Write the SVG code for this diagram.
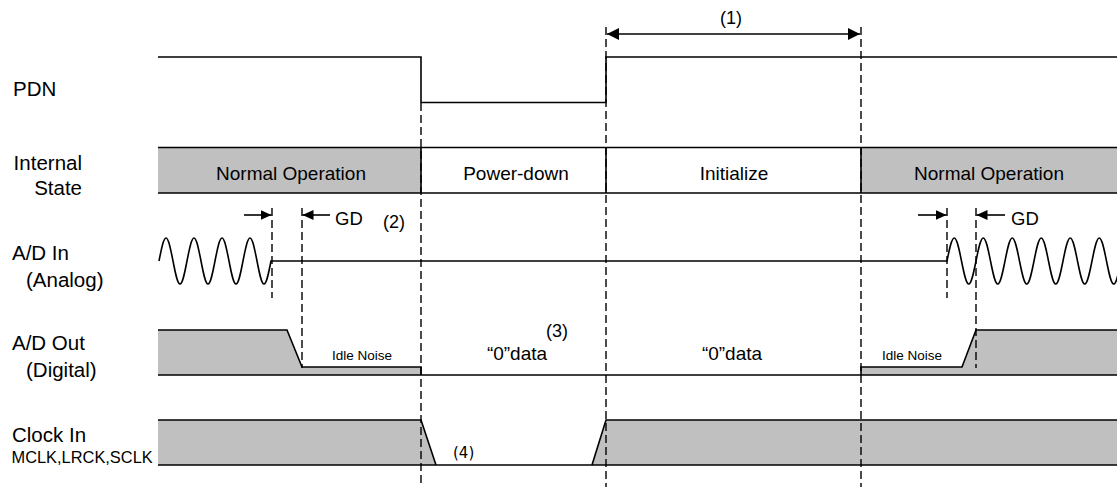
<svg xmlns="http://www.w3.org/2000/svg" width="1117" height="487" viewBox="0 0 1117 487">
<defs>
<style>
.t{font-family:"Liberation Sans",Arial,sans-serif;fill:#000}
.lbl{font-size:20.5px}
.st{font-size:19px;text-anchor:middle}
.sm{font-size:13.5px;text-anchor:middle}
.ln{fill:none;stroke:#000;stroke-width:1.6}
.gray{fill:#c0c0c0}
.dash{fill:none;stroke:#000;stroke-width:1.4;stroke-dasharray:8,4}
</style>
<marker id="ah" viewBox="0 0 12 12" refX="12" refY="6" markerWidth="12" markerHeight="12" markerUnits="userSpaceOnUse" orient="auto">
<path d="M0,0 L12,6 L0,12 Z" fill="#000"/>
</marker>
<marker id="ahs" viewBox="0 0 11 10" refX="11" refY="5" markerWidth="11" markerHeight="10" markerUnits="userSpaceOnUse" orient="auto">
<path d="M0,0 L11,5 L0,10 Z" fill="#000"/>
</marker>
</defs>
<rect width="1117" height="487" fill="#fff"/>

<g id="pdn">
<text class="t lbl" x="13" y="96">PDN</text>
<path class="ln" d="M158,57 H421 V102.5 H606 V57 H1117"/>
</g>

<g id="internal-state">
<text class="t lbl" x="82" y="170" text-anchor="end">Internal</text>
<text class="t lbl" x="82" y="195" text-anchor="end">State</text>
<rect class="gray" x="158" y="147.5" width="263" height="45.5"/>
<rect class="gray" x="861" y="147.5" width="256" height="45.5"/>
<path class="ln" d="M158,147.5 H1117 M158,193 H1117 M421,147.5 V193 M606,147.5 V193 M861,147.5 V193"/>
<text class="t st" x="291" y="179.5">Normal Operation</text>
<text class="t st" x="516" y="179.5">Power-down</text>
<text class="t st" x="734" y="179.5">Initialize</text>
<text class="t st" x="989" y="179.5">Normal Operation</text>
</g>

<g id="ad-in">
<text class="t lbl" x="12" y="260">A/D In</text>
<text class="t lbl" x="26" y="287">(Analog)</text>
<path class="ln" d="M159,261 c2.28,-11.78 4.47,-23 7,-23 c2.53,0 4.72,11.22 7,23 c2.28,11.78 4.47,23 7,23 c2.53,0 4.72,-11.22 7,-23 c2.28,-11.78 4.47,-23 7,-23 c2.53,0 4.72,11.22 7,23 c2.28,11.78 4.47,23 7,23 c2.53,0 4.72,-11.22 7,-23 c2.28,-11.78 4.47,-23 7,-23 c2.53,0 4.72,11.22 7,23 c2.28,11.78 4.47,23 7,23 c2.53,0 4.72,-11.22 7,-23 c2.28,-11.78 4.47,-23 7,-23 c2.53,0 4.72,11.22 7,23 c2.28,11.78 4.47,23 7,23 c2.53,0 4.72,-11.22 7,-23 L947,261 c2.36,-11.78 4.63,-23 7.25,-23 c2.62,0 4.89,11.22 7.25,23 c2.36,11.78 4.63,23 7.25,23 c2.62,0 4.89,-11.22 7.25,-23 c2.36,-11.78 4.63,-23 7.25,-23 c2.62,0 4.89,11.22 7.25,23 c2.36,11.78 4.63,23 7.25,23 c2.62,0 4.89,-11.22 7.25,-23 c2.36,-11.78 4.63,-23 7.25,-23 c2.62,0 4.89,11.22 7.25,23 c2.36,11.78 4.63,23 7.25,23 c2.62,0 4.89,-11.22 7.25,-23 c2.36,-11.78 4.63,-23 7.25,-23 c2.62,0 4.89,11.22 7.25,23 c2.36,11.78 4.63,23 7.25,23 c2.62,0 4.89,-11.22 7.25,-23 c2.36,-11.78 4.63,-23 7.25,-23 c2.62,0 4.89,11.22 7.25,23 c2.36,11.78 4.63,23 7.25,23 c2.62,0 4.89,-11.22 7.25,-23 c2.36,-11.78 4.63,-23 7.25,-23 c2.62,0 4.89,11.22 7.25,23 c2.36,11.78 4.63,23 7.25,23 c2.62,0 4.89,-11.22 7.25,-23"/>
<text class="t" x="335" y="225" font-size="18.5">GD</text>
<text class="t" x="383" y="228" font-size="18">(2)</text>
<text class="t" x="1011" y="225" font-size="18.5">GD</text>
</g>

<g id="ad-out">
<text class="t lbl" x="12" y="350">A/D Out</text>
<text class="t lbl" x="26" y="377">(Digital)</text>
<path class="gray" d="M158,330 H287 L302,367 H421 V375 H158 Z"/>
<path class="gray" d="M861,367 H962 L976,330 H1117 V375 H861 Z"/>
<path class="ln" d="M158,330 H287 L302,367 H421 V375 M861,375 V367 H962 L976,330 H1117 M158,375 H1117"/>
<text class="t sm" x="362" y="360">Idle Noise</text>
<text class="t sm" x="912" y="360">Idle Noise</text>
<text class="t" x="546" y="337" font-size="18">(3)</text>
<text class="t" x="517" y="360" font-size="19" text-anchor="middle">“0”data</text>
<text class="t" x="732" y="360" font-size="19" text-anchor="middle">“0”data</text>
</g>

<g id="clock-in">
<text class="t lbl" x="12" y="442">Clock In</text>
<text class="t" x="11.5" y="463" font-size="16.4">MCLK,LRCK,SCLK</text>
<path class="gray" d="M158,420 H421 L436,465 H158 Z"/>
<path class="gray" d="M592,465 L606,420 H1117 V465 Z"/>
<path class="ln" d="M158,420 H421 L436,465 M592,465 L606,420 H1117 M158,465 H1117"/>
<text x="453" y="458" font-family="'DejaVu Sans',Verdana,sans-serif" font-size="15">(4)</text>
</g>

<g id="connectors">
<path class="dash" d="M421,103 V487 M606,27 V487 M861,27 V487"/>
<path class="dash" d="M272,208 V298 M302,208 V368 M947,208 V298 M976,208 V368"/>
<line class="ln" x1="735" y1="34" x2="607" y2="34" marker-end="url(#ah)"/>
<line class="ln" x1="735" y1="34" x2="860" y2="34" marker-end="url(#ah)"/>
<line class="ln" x1="244" y1="215" x2="271.5" y2="215" marker-end="url(#ahs)"/>
<line class="ln" x1="330" y1="215" x2="302.5" y2="215" marker-end="url(#ahs)"/>
<line class="ln" x1="918" y1="215" x2="946.5" y2="215" marker-end="url(#ahs)"/>
<line class="ln" x1="1005" y1="215" x2="976.5" y2="215" marker-end="url(#ahs)"/>
<text class="t" x="731" y="24" font-size="18" text-anchor="middle">(1)</text>
</g>
</svg>
